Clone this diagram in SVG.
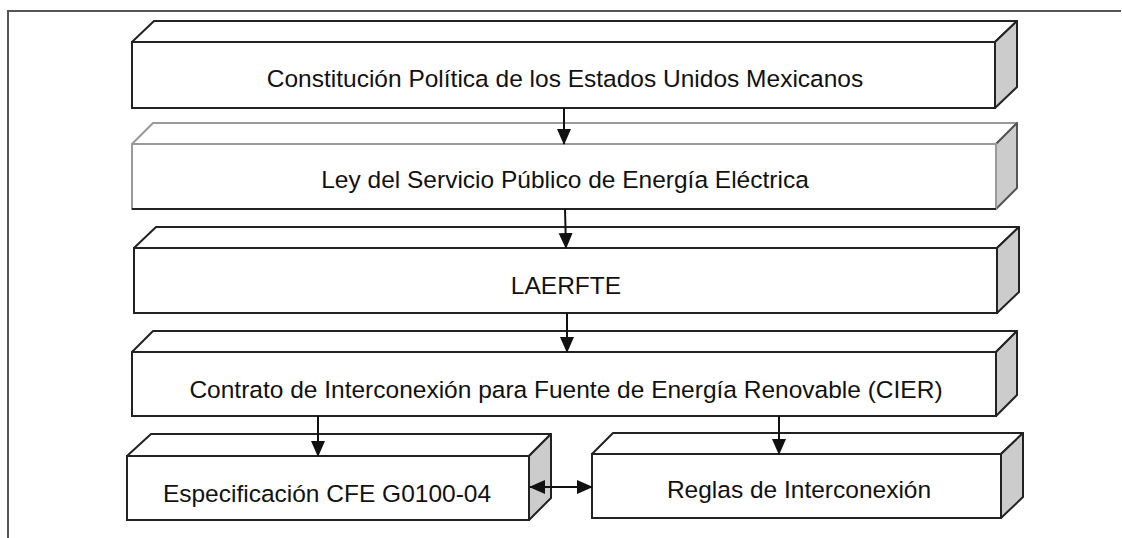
<svg xmlns="http://www.w3.org/2000/svg" width="1122" height="538" viewBox="0 0 1122 538">
<style>
.front{fill:#fff;stroke:#222;stroke-width:2}
.top{fill:#fff;stroke:#222;stroke-width:2;stroke-linejoin:round}
.side{fill:#cccccc;stroke:#222;stroke-width:2;stroke-linejoin:round}
.lt .front,.lt .top{stroke:#9a9a9a}
.lt .side{stroke:#555}
.lbl{font-family:"Liberation Sans",Arial,sans-serif;font-size:24.5px;fill:#111;text-anchor:middle}
.con{stroke:#111;stroke-width:2;fill:none}
</style>
<defs>
<marker id="ah" markerUnits="userSpaceOnUse" markerWidth="16" markerHeight="16" viewBox="0 0 16 16" refX="15" refY="8" orient="auto-start-reverse">
<path d="M0,1 L16,8 L0,15 Z" fill="#111"/>
</marker>
</defs>
<rect width="1122" height="538" fill="#fff"/>
<path d="M8,538 V11 H1121" fill="none" stroke="#555" stroke-width="2"/>

<g id="n1">
<polygon class="top" points="132,42 154,21 1017,21 995,42"/>
<polygon class="side" points="995,42 1017,21 1017,87 995,108"/>
<rect class="front" x="132" y="42" width="863" height="66"/>
<text class="lbl" x="565" y="87">Constitución Política de los Estados Unidos Mexicanos</text>
</g>

<g id="n2" class="lt">
<polygon class="top" points="132,144 153,123 1017,123 996,144"/>
<polygon class="side" points="996,144 1017,123 1017,188 996,209"/>
<rect class="front" x="132" y="144" width="864" height="65"/>
<line x1="132" y1="209" x2="996" y2="209" stroke="#222" stroke-width="2"/>
<text class="lbl" x="565" y="188">Ley del Servicio Público de Energía Eléctrica</text>
</g>

<g id="n3">
<polygon class="top" points="134,248 156,227 1019,227 997,248"/>
<polygon class="side" points="997,248 1019,227 1019,292 997,313"/>
<rect class="front" x="134" y="248" width="863" height="65"/>
<text class="lbl" x="566" y="294">LAERFTE</text>
</g>

<g id="n4">
<polygon class="top" points="132,352 153,331 1017,331 996,352"/>
<polygon class="side" points="996,352 1017,331 1017,395 996,416"/>
<rect class="front" x="132" y="352" width="864" height="64"/>
<text class="lbl" x="566" y="398">Contrato de Interconexión para Fuente de Energía Renovable (CIER)</text>
</g>

<g id="n5">
<polygon class="top" points="127,456 151,434 551,434 529,456"/>
<polygon class="side" points="529,456 551,434 551,498 529,520"/>
<rect class="front" x="127" y="456" width="402" height="64"/>
<text class="lbl" x="327" y="502">Especificación CFE G0100-04</text>
</g>

<g id="n6">
<polygon class="top" points="592,454 613,433 1023,433 1001,454"/>
<polygon class="side" points="1001,454 1023,433 1023,497 1001,518"/>
<rect class="front" x="592" y="454" width="409" height="64"/>
<text class="lbl" x="799" y="498">Reglas de Interconexión</text>
</g>

<g id="connectors">
<line class="con" x1="564" y1="108" x2="564" y2="144" marker-end="url(#ah)"/>
<line class="con" x1="565" y1="209" x2="566" y2="248" marker-end="url(#ah)"/>
<line class="con" x1="567" y1="313" x2="567" y2="352" marker-end="url(#ah)"/>
<line class="con" x1="318" y1="416" x2="318" y2="456" marker-end="url(#ah)"/>
<line class="con" x1="779" y1="416" x2="779" y2="454" marker-end="url(#ah)"/>
<line class="con" x1="530" y1="487" x2="592" y2="487" marker-start="url(#ah)" marker-end="url(#ah)"/>
</g>
</svg>
